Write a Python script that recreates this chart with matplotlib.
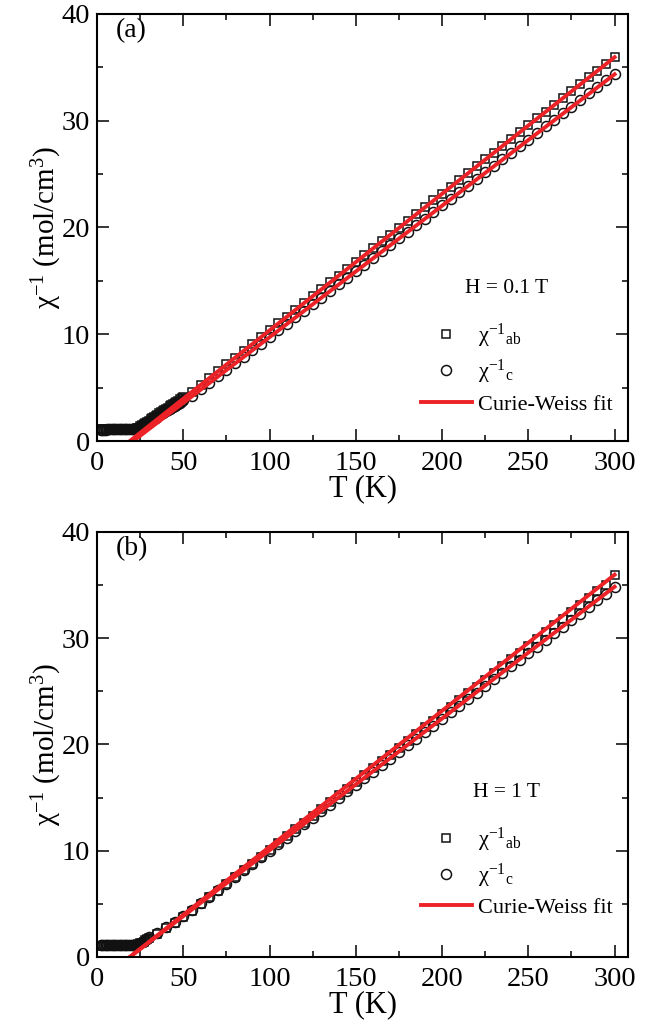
import matplotlib
matplotlib.use('Agg')
import matplotlib.pyplot as plt
from matplotlib.lines import Line2D
from matplotlib.ticker import MultipleLocator

plt.rcParams['font.family'] = ['Liberation Serif', 'DejaVu Serif']
plt.rcParams['mathtext.fontset'] = 'custom'
plt.rcParams['mathtext.rm'] = 'Liberation Serif'
plt.rcParams['mathtext.it'] = 'Liberation Serif:italic'

# ---- data ----
# dense low-temperature sweep (every 1 K)
T_low_a = list(range(2, 51))
chi_c_low_a = [1.05, 1.05, 1.05, 1.06, 1.10, 1.12, 1.12, 1.12, 1.12, 1.12,
               1.12, 1.12, 1.12, 1.12, 1.12, 1.12, 1.12, 1.12, 1.12, 1.12,
               1.13, 1.14, 1.20, 1.30, 1.40, 1.50, 1.60, 1.70, 1.80, 1.90,
               2.00, 2.10, 2.20, 2.30, 2.40, 2.50, 2.60, 2.70, 2.80, 2.90,
               3.00, 3.10, 3.20, 3.30, 3.40, 3.50, 3.60, 3.70, 3.80]
chi_ab_low_a = [1.08, 1.08, 1.08, 1.09, 1.12, 1.14, 1.14, 1.14, 1.14, 1.14,
                1.14, 1.14, 1.14, 1.14, 1.14, 1.14, 1.14, 1.14, 1.14, 1.14,
                1.16, 1.18, 1.26, 1.37, 1.48, 1.59, 1.70, 1.81, 1.92, 2.03,
                2.14, 2.25, 2.36, 2.47, 2.58, 2.69, 2.80, 2.91, 3.02, 3.13,
                3.24, 3.35, 3.46, 3.57, 3.68, 3.79, 3.90, 4.00, 4.10]
# every 5 K above
T_high_a = list(range(55, 301, 5))
chi_ab_high_a = [4.61, 5.25, 5.89, 6.53, 7.17, 7.81, 8.45, 9.09, 9.73, 10.37,
                 11.01, 11.65, 12.29, 12.93, 13.57, 14.21, 14.85, 15.49, 16.13, 16.77,
                 17.41, 18.05, 18.69, 19.33, 19.97, 20.61, 21.25, 21.89, 22.53, 23.17,
                 23.81, 24.45, 25.09, 25.73, 26.37, 27.01, 27.65, 28.29, 28.93, 29.57,
                 30.21, 30.85, 31.49, 32.13, 32.77, 33.41, 34.05, 34.69, 35.33, 35.95]
chi_c_high_a = [4.25, 4.85, 5.45, 6.06, 6.67, 7.28, 7.89, 8.51, 9.12, 9.74,
                10.36, 10.97, 11.59, 12.21, 12.82, 13.44, 14.06, 14.67, 15.29, 15.91,
                16.52, 17.14, 17.76, 18.37, 18.99, 19.60, 20.22, 20.84, 21.45, 22.07,
                22.69, 23.30, 23.92, 24.54, 25.15, 25.77, 26.39, 27.00, 27.62, 28.24,
                28.85, 29.47, 30.08, 30.70, 31.32, 31.93, 32.55, 33.17, 33.78, 34.35]
fit_T_ab_a = [19, 300]
fit_ab_a = [0.0, 35.95]
fit_T_c_a = [21, 300]
fit_c_a = [0.0, 34.35]

T_low_b = list(range(2, 30))
chi_c_low_b = [1.08, 1.08, 1.08, 1.08, 1.08, 1.08, 1.08, 1.08, 1.08, 1.08,
               1.08, 1.08, 1.08, 1.08, 1.08, 1.08, 1.08, 1.08, 1.08, 1.08,
               1.10, 1.15, 1.22, 1.32, 1.42, 1.52, 1.62, 1.72]
chi_ab_low_b = [1.06, 1.06, 1.06, 1.06, 1.06, 1.06, 1.06, 1.06, 1.06, 1.06,
                1.06, 1.06, 1.06, 1.06, 1.06, 1.06, 1.06, 1.06, 1.06, 1.06,
                1.08, 1.12, 1.18, 1.27, 1.36, 1.45, 1.55, 1.65]
T_high_b = list(range(30, 301, 5))
chi_ab_high_b = [1.75, 2.20, 2.70, 3.20, 3.75, 4.35, 4.96, 5.60, 6.23, 6.87,
                 7.51, 8.15, 8.79, 9.43, 10.07, 10.72, 11.36, 12.00, 12.64, 13.28,
                 13.92, 14.56, 15.20, 15.84, 16.48, 17.12, 17.76, 18.40, 19.04, 19.68,
                 20.32, 20.96, 21.60, 22.24, 22.88, 23.52, 24.16, 24.80, 25.44, 26.08,
                 26.72, 27.36, 28.00, 28.64, 29.28, 29.92, 30.56, 31.20, 31.84, 32.48,
                 33.12, 33.76, 34.40, 35.04, 35.98]
chi_c_high_b = [1.85, 2.30, 2.80, 3.30, 3.85, 4.42, 5.04, 5.66, 6.28, 6.90,
                7.52, 8.14, 8.76, 9.38, 10.00, 10.62, 11.24, 11.86, 12.48, 13.10,
                13.72, 14.34, 14.96, 15.58, 16.20, 16.82, 17.44, 18.06, 18.68, 19.30,
                19.92, 20.54, 21.16, 21.78, 22.40, 23.02, 23.64, 24.26, 24.88, 25.50,
                26.12, 26.74, 27.36, 27.98, 28.60, 29.22, 29.84, 30.46, 31.08, 31.70,
                32.32, 32.94, 33.56, 34.18, 34.85]
fit_T_ab_b = [19, 300]
fit_ab_b = [0.0, 35.98]
fit_T_c_b = [19, 300]
fit_c_b = [0.0, 34.85]

RED = '#ec2227'
mk = dict(ls='none', mfc='none', mec='#111111', mew=1.1)

fig = plt.figure(figsize=(6.65, 10.34), dpi=100)
ax1 = fig.add_axes([0.146, 0.5735, 0.799, 0.413])
ax2 = fig.add_axes([0.146, 0.0745, 0.799, 0.411])

panels = [
    (ax1, T_low_a, chi_ab_low_a, chi_c_low_a, T_high_a, chi_ab_high_a, chi_c_high_a,
     fit_T_ab_a, fit_ab_a, fit_T_c_a, fit_c_a, '(a)', 'H = 0.1 T', 0.356, 0.17),
    (ax2, T_low_b, chi_ab_low_b, chi_c_low_b, T_high_b, chi_ab_high_b, chi_c_high_b,
     fit_T_ab_b, fit_ab_b, fit_T_c_b, fit_c_b, '(b)', 'H = 1 T', 0.386, 0.20),
]

for (ax, Tl, abl, cl, Th, abh, ch, fTab, fab, fTc, fc, tag, field, hy, ly) in panels:
    ax.plot(Tl, abl, marker='s', ms=6.2, **mk)
    ax.plot(Th, abh, marker='s', ms=6.2, **mk)
    ax.plot(Tl, cl, marker='o', ms=7.2, **mk)
    ax.plot(Th, ch, marker='o', ms=7.2, **mk)
    ax.plot(fTab, fab, color=RED, lw=2.8)
    ax.plot(fTc, fc, color=RED, lw=2.8)

    ax.set_xlim(0, 308)
    ax.set_ylim(0, 40)
    ax.xaxis.set_major_locator(MultipleLocator(50))
    ax.xaxis.set_minor_locator(MultipleLocator(25))
    ax.yaxis.set_major_locator(MultipleLocator(10))
    ax.yaxis.set_minor_locator(MultipleLocator(5))
    ax.tick_params(which='both', direction='in', top=True, right=True,
                   width=1.1, labelsize=20.5)
    ax.tick_params(axis='x', which='major', pad=7)
    ax.tick_params(axis='y', which='major', pad=5)
    ax.tick_params(which='major', length=8.5)
    ax.tick_params(which='minor', length=4.5)
    for s in ax.spines.values():
        s.set_linewidth(1.5)

    ax.set_xlabel('T (K)', fontsize=22, labelpad=-1)
    ax.set_ylabel(r'$\mathrm{\chi^{-1}}$ (mol/cm$^\mathrm{3}$)', fontsize=21, labelpad=-2)
    ax.text(0.035, 0.99, tag, transform=ax.transAxes, fontsize=20, va='top', ha='left')
    ax.text(0.77, hy, field, transform=ax.transAxes, fontsize=15.5, ha='center', va='center')

    handles = [
        Line2D([], [], marker='s', ms=6.2, **mk),
        Line2D([], [], marker='o', ms=7.2, **mk),
        Line2D([], [], color=RED, lw=2.8),
    ]
    labels = [r'$\mathrm{\chi^{-1}{}_{ab}}$', r'$\mathrm{\chi^{-1}{}_{c}}$', 'Curie-Weiss fit']
    ax.legend(handles, labels, loc='center', bbox_to_anchor=(0.79, ly), frameon=False,
              fontsize=16, handlelength=2.3, handletextpad=0.3, labelspacing=0.35,
              borderpad=0.2)

fig.savefig('out.png', dpi=100)
